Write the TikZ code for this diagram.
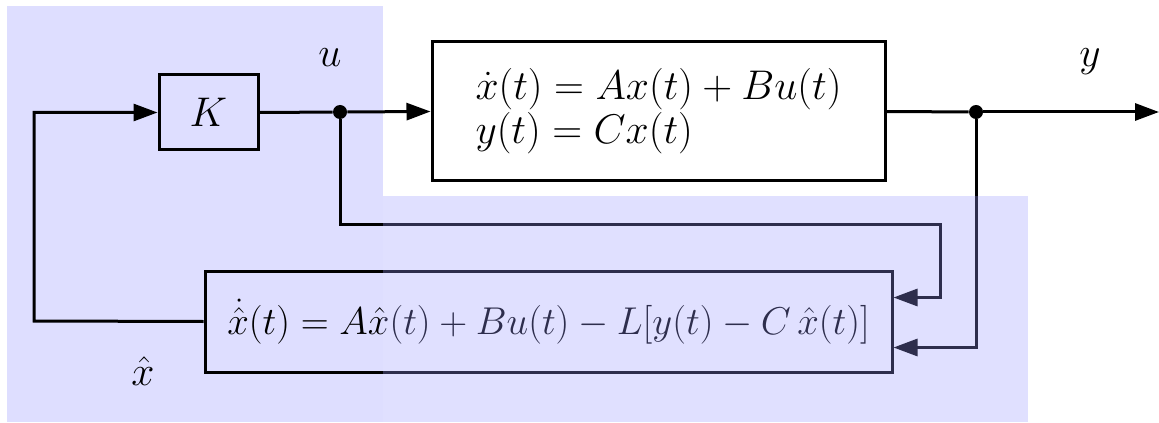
\documentclass[tikz,border=0pt]{standalone}
\usepackage{amsmath,amssymb}
\usepackage{graphicx}
\usepackage{tikz}
\usetikzlibrary{arrows.meta,positioning,calc}
\definecolor{panel}{HTML}{DEDEFF}
\definecolor{obsfill}{HTML}{9999FF}

\begin{document}
\begin{tikzpicture}[x=0.5pt,y=-0.5pt,
  font=\fontsize{20}{24}\selectfont,
  blk/.style={draw,line width=1.5pt,inner sep=0pt},
  sig/.style={line width=1.5pt},
  flow/.style={sig,-{Triangle[length=12pt,width=8.5pt]}},
  tap/.style={circle,fill,inner sep=0pt,minimum size=7pt}]
  \useasboundingbox (0,0) rectangle (1159,422);
  \fill[panel] (7,6) rectangle (383,422);
  % blocks
  \node[blk,minimum width=49.5pt,minimum height=37.5pt] (K) at (208.5,112.5) {$K$};
  \node[blk,minimum width=226.5pt,minimum height=69.5pt,align=left] (plant) at (658.5,111.5)
    {$\dot x(t) = Ax(t) + Bu(t)$\\[-2pt]$y(t) = Cx(t)$};
  \node[blk,minimum width=343.5pt,minimum height=50.5pt] (obs) at (548.5,321.5)
    {\scalebox{0.935}{$\dot{\hat{x}}(t) = A\hat{x}(t) + Bu(t) - L[y(t) - C\,\hat{x}(t)]$}};
  \node[tap] (ubr) at (340,112) {};
  \node[tap] (ybr) at (976,112) {};
  \coordinate (uturn) at (940,224);
  \coordinate (corner) at (34,321);
  \coordinate (out) at (1159,112);
  % labels
  \node (ulbl) at (330,58) {$u$};
  \node (ylbl) at (1090,62) {$y$};
  \node (xlbl) at (143,371) {$\hat{x}$};
  % wires
  \draw[sig] (K.east) -- (ubr);
  \draw[flow] (ubr) -- (plant.west);
  \draw[sig] (plant.east) -- (ybr);
  \draw[flow] (ybr) -- (out);
  \draw[flow] (ubr) |- (uturn) |- ([yshift=12pt]obs.east);
  \draw[flow] (ybr) |- ([yshift=-13pt]obs.east);
  \draw[flow] (obs.west) -- (corner) |- (K.west);
  % observer panel on top
  \fill[obsfill,opacity=0.3] (383,196) rectangle (1028,422);
\end{tikzpicture}
\end{document}
